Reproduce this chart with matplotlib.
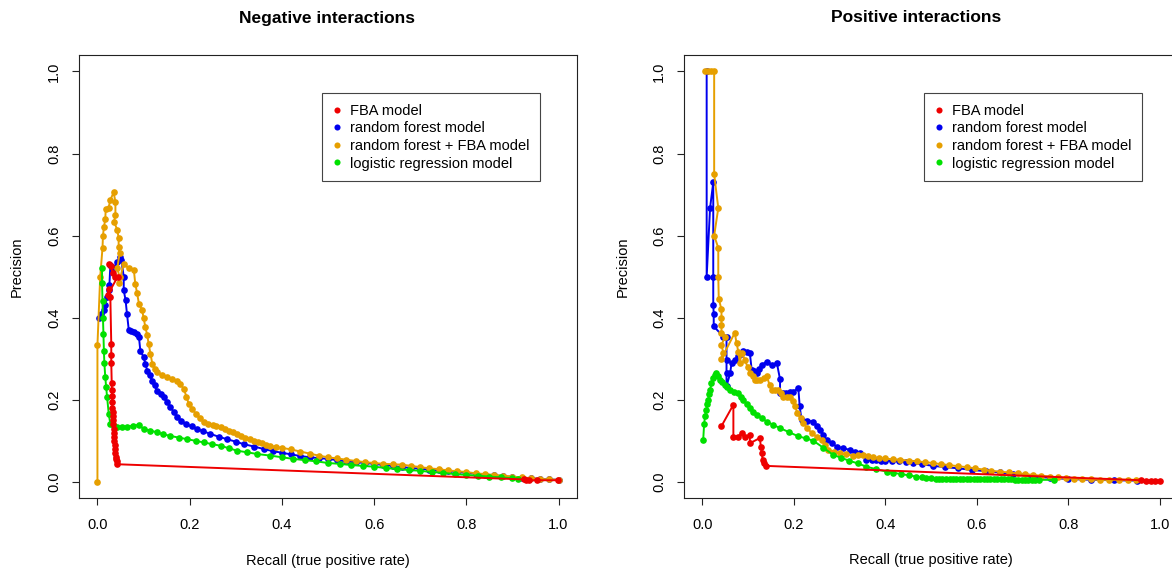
import matplotlib
matplotlib.use("Agg")
import matplotlib.pyplot as plt
from matplotlib.lines import Line2D

plt.rcParams['font.family'] = ['Liberation Sans', 'DejaVu Sans']

# ---- Negative interactions ----
neg_fba_recall = [0.026, 0.029, 0.033, 0.038, 0.044, 0.022, 0.025, 0.028, 0.030, 0.030, 0.030, 0.031,
                  0.031, 0.032, 0.032, 0.032, 0.033, 0.033, 0.034, 0.034, 0.035, 0.036, 0.036, 0.037,
                  0.038, 0.038, 0.039, 0.040, 0.041, 0.042, 0.043, 0.925, 0.929, 0.935, 0.953, 0.998]
neg_fba_prec = [0.53, 0.525, 0.51, 0.50, 0.50, 0.455, 0.47, 0.45, 0.335, 0.31, 0.29, 0.24,
                0.225, 0.21, 0.195, 0.18, 0.17, 0.16, 0.15, 0.14, 0.13, 0.12, 0.11, 0.10,
                0.09, 0.08, 0.07, 0.06, 0.055, 0.05, 0.043, 0.006, 0.004, 0.004, 0.004, 0.004]

neg_rf_recall = [0.003, 0.008, 0.014, 0.017, 0.021, 0.024, 0.026, 0.028, 0.035, 0.042, 0.050, 0.052,
                 0.057, 0.057, 0.061, 0.064, 0.068, 0.073, 0.079, 0.085, 0.090, 0.093, 0.100, 0.104,
                 0.108, 0.113, 0.119, 0.124, 0.129, 0.137, 0.144, 0.151, 0.158, 0.166, 0.173, 0.182,
                 0.191, 0.204, 0.216, 0.230, 0.245, 0.263, 0.281, 0.300, 0.317, 0.340, 0.361, 0.380,
                 0.400, 0.420, 0.440, 0.460, 0.480, 0.500, 0.520, 0.540, 0.560, 0.580, 0.600, 0.620,
                 0.640, 0.660, 0.680, 0.700, 0.720, 0.740, 0.760, 0.780, 0.800, 0.820, 0.840, 0.860,
                 0.880, 0.900, 0.920, 0.940, 0.960, 0.980, 1.000]
neg_rf_prec = [0.40, 0.41, 0.418, 0.43, 0.45, 0.467, 0.48, 0.528, 0.52, 0.535, 0.548, 0.54,
               0.50, 0.467, 0.443, 0.41, 0.37, 0.368, 0.365, 0.36, 0.353, 0.32, 0.304, 0.288,
               0.271, 0.26, 0.247, 0.235, 0.222, 0.214, 0.206, 0.194, 0.182, 0.17, 0.157, 0.149,
               0.141, 0.135, 0.129, 0.123, 0.117, 0.11, 0.104, 0.098, 0.092, 0.086, 0.08, 0.075,
               0.071, 0.067, 0.063, 0.06, 0.058, 0.056, 0.053, 0.05, 0.048, 0.046, 0.044, 0.041,
               0.039, 0.036, 0.034, 0.032, 0.03, 0.028, 0.026, 0.024, 0.022, 0.02, 0.018, 0.016,
               0.014, 0.012, 0.01, 0.009, 0.007, 0.006, 0.005]

neg_rffba_recall = [0.0, 0.0, 0.006, 0.011, 0.012, 0.014, 0.017, 0.018, 0.024, 0.028, 0.035, 0.039,
                    0.039, 0.036, 0.043, 0.046, 0.046, 0.048, 0.043, 0.048, 0.047, 0.057, 0.068, 0.079,
                    0.082, 0.086, 0.090, 0.097, 0.100, 0.104, 0.108, 0.111, 0.115, 0.119, 0.124, 0.129,
                    0.140, 0.151, 0.162, 0.173, 0.180, 0.187, 0.193, 0.198, 0.206, 0.213, 0.222, 0.231,
                    0.240, 0.250, 0.258, 0.267, 0.276, 0.285, 0.294, 0.303, 0.312, 0.320, 0.330, 0.339,
                    0.348, 0.357, 0.366, 0.375, 0.388, 0.400, 0.420, 0.440, 0.460, 0.480, 0.500, 0.520,
                    0.540, 0.560, 0.580, 0.600, 0.620, 0.640, 0.660, 0.680, 0.700, 0.720, 0.740, 0.760,
                    0.780, 0.800, 0.820, 0.840, 0.860, 0.880, 0.900, 0.920, 0.940, 0.960, 0.980, 1.000]
neg_rffba_prec = [0.0, 0.333, 0.50, 0.57, 0.60, 0.62, 0.64, 0.665, 0.667, 0.687, 0.705, 0.683,
                  0.65, 0.634, 0.614, 0.594, 0.573, 0.557, 0.52, 0.50, 0.485, 0.532, 0.52, 0.516,
                  0.483, 0.46, 0.434, 0.418, 0.40, 0.377, 0.357, 0.337, 0.312, 0.288, 0.275, 0.267,
                  0.26, 0.255, 0.25, 0.247, 0.238, 0.227, 0.208, 0.19, 0.178, 0.166, 0.155, 0.145,
                  0.141, 0.138, 0.135, 0.133, 0.129, 0.125, 0.121, 0.117, 0.112, 0.108, 0.104, 0.10,
                  0.097, 0.094, 0.091, 0.088, 0.085, 0.083, 0.079, 0.074, 0.069, 0.064, 0.060, 0.057,
                  0.054, 0.051, 0.048, 0.046, 0.044, 0.043, 0.042, 0.039, 0.036, 0.033, 0.031, 0.028,
                  0.026, 0.024, 0.021, 0.019, 0.017, 0.015, 0.013, 0.011, 0.009, 0.007, 0.006, 0.005]

neg_lr_recall = [0.010, 0.010, 0.011, 0.012, 0.013, 0.014, 0.015, 0.017, 0.019, 0.021, 0.0245, 0.028,
                 0.035, 0.043, 0.053, 0.064, 0.077, 0.090, 0.100, 0.114, 0.129, 0.143, 0.158, 0.176,
                 0.195, 0.213, 0.231, 0.249, 0.267, 0.285, 0.303, 0.325, 0.346, 0.375, 0.400, 0.425,
                 0.450, 0.475, 0.500, 0.525, 0.550, 0.575, 0.600, 0.625, 0.650, 0.675, 0.700, 0.725,
                 0.750, 0.775, 0.800, 0.825, 0.850, 0.875, 0.900, 0.913]
neg_lr_prec = [0.52, 0.485, 0.44, 0.40, 0.36, 0.32, 0.29, 0.255, 0.23, 0.206, 0.166, 0.141,
               0.135, 0.133, 0.134, 0.134, 0.137, 0.139, 0.129, 0.125, 0.121, 0.116, 0.112, 0.108,
               0.104, 0.10, 0.096, 0.092, 0.088, 0.082, 0.076, 0.072, 0.068, 0.064, 0.060, 0.056,
               0.053, 0.050, 0.046, 0.044, 0.041, 0.039, 0.037, 0.034, 0.031, 0.029, 0.027, 0.024,
               0.022, 0.019, 0.017, 0.015, 0.013, 0.011, 0.009, 0.007]

# ---- Positive interactions ----
pos_fba_recall = [0.042, 0.068, 0.068, 0.079, 0.086, 0.093, 0.104, 0.104, 0.126, 0.128, 0.130, 0.132,
                  0.135, 0.139, 0.960, 0.970, 0.980, 0.990, 1.000]
pos_fba_prec = [0.136, 0.188, 0.11, 0.11, 0.119, 0.11, 0.115, 0.094, 0.107, 0.086, 0.07, 0.054,
                0.045, 0.039, 0.004, 0.003, 0.003, 0.003, 0.003]

pos_rf_recall = [0.0096, 0.0096, 0.017, 0.024, 0.024, 0.024, 0.025, 0.025, 0.046, 0.053, 0.053, 0.053,
                 0.053, 0.061, 0.064, 0.072, 0.079, 0.085, 0.090, 0.097, 0.104, 0.108, 0.114, 0.119,
                 0.125, 0.130, 0.141, 0.152, 0.163, 0.170, 0.170, 0.177, 0.184, 0.192, 0.199, 0.210,
                 0.213, 0.217, 0.230, 0.243, 0.250, 0.257, 0.265, 0.272, 0.283, 0.294, 0.308, 0.323,
                 0.334, 0.345, 0.359, 0.370, 0.380, 0.390, 0.400, 0.415, 0.430, 0.445, 0.460, 0.480,
                 0.505, 0.530, 0.560, 0.590, 0.620, 0.650, 0.680, 0.720, 0.760, 0.800, 0.850, 0.900,
                 0.950]
pos_rf_prec = [1.0, 0.50, 0.667, 0.73, 0.50, 0.432, 0.41, 0.379, 0.354, 0.354, 0.298, 0.265,
               0.233, 0.265, 0.29, 0.298, 0.306, 0.312, 0.318, 0.316, 0.314, 0.273, 0.27, 0.265,
               0.275, 0.285, 0.293, 0.285, 0.29, 0.25, 0.216, 0.216, 0.216, 0.218, 0.22, 0.228,
               0.184, 0.151, 0.149, 0.147, 0.137, 0.127, 0.114, 0.102, 0.094, 0.086, 0.082, 0.078,
               0.074, 0.07, 0.054, 0.053, 0.053, 0.052, 0.052, 0.051, 0.05, 0.048, 0.046, 0.043,
               0.039, 0.036, 0.033, 0.029, 0.026, 0.023, 0.019, 0.013, 0.010, 0.007, 0.005, 0.004,
               0.003]

pos_rffba_recall = [0.006, 0.013, 0.020, 0.026, 0.026, 0.035, 0.026, 0.035, 0.035, 0.036, 0.042, 0.042,
                    0.042, 0.042, 0.050, 0.042, 0.046, 0.042, 0.071, 0.075, 0.079, 0.082, 0.086, 0.093,
                    0.099, 0.104, 0.110, 0.115, 0.120, 0.126, 0.134, 0.141, 0.147, 0.152, 0.159, 0.166,
                    0.172, 0.177, 0.185, 0.192, 0.198, 0.203, 0.208, 0.215, 0.221, 0.230, 0.239, 0.250,
                    0.261, 0.268, 0.275, 0.288, 0.301, 0.315, 0.330, 0.341, 0.352, 0.363, 0.374, 0.387,
                    0.400, 0.416, 0.432, 0.451, 0.470, 0.487, 0.505, 0.522, 0.540, 0.560, 0.578, 0.596,
                    0.615, 0.632, 0.650, 0.670, 0.690, 0.705, 0.723, 0.740, 0.760, 0.778, 0.796, 0.813,
                    0.830, 0.850, 0.869, 0.890, 0.910, 0.930, 0.949]
pos_rffba_prec = [1.0, 1.0, 1.0, 1.0, 0.749, 0.667, 0.60, 0.57, 0.50, 0.446, 0.42, 0.40,
                  0.383, 0.363, 0.354, 0.334, 0.314, 0.30, 0.363, 0.338, 0.316, 0.29, 0.314, 0.298,
                  0.28, 0.265, 0.257, 0.249, 0.249, 0.249, 0.253, 0.257, 0.237, 0.224, 0.224, 0.224,
                  0.216, 0.208, 0.208, 0.208, 0.196, 0.184, 0.167, 0.155, 0.143, 0.131, 0.119, 0.11,
                  0.102, 0.09, 0.078, 0.074, 0.07, 0.067, 0.064, 0.065, 0.066, 0.063, 0.06, 0.058,
                  0.057, 0.055, 0.054, 0.052, 0.05, 0.048, 0.046, 0.043, 0.041, 0.038, 0.036, 0.033,
                  0.030, 0.027, 0.025, 0.023, 0.021, 0.019, 0.017, 0.015, 0.013, 0.011, 0.009, 0.008,
                  0.007, 0.006, 0.005, 0.005, 0.005, 0.005, 0.005]

pos_lr_recall = [0.002, 0.004, 0.006, 0.009, 0.011, 0.013, 0.015, 0.017, 0.020, 0.024, 0.027, 0.031,
                 0.034, 0.038, 0.043, 0.049, 0.054, 0.060, 0.070, 0.079, 0.085, 0.090, 0.097, 0.104,
                 0.111, 0.119, 0.130, 0.141, 0.155, 0.170, 0.190, 0.210, 0.227, 0.243, 0.265, 0.286,
                 0.303, 0.320, 0.340, 0.359, 0.380, 0.403, 0.418, 0.435, 0.451, 0.468, 0.480, 0.490,
                 0.500, 0.510, 0.518, 0.525, 0.533, 0.541, 0.548, 0.555, 0.563, 0.570, 0.578, 0.585,
                 0.593, 0.600, 0.608, 0.615, 0.623, 0.630, 0.638, 0.645, 0.653, 0.660, 0.668, 0.675,
                 0.683, 0.690, 0.698, 0.705, 0.713, 0.720, 0.728, 0.737, 0.770]
pos_lr_prec = [0.102, 0.14, 0.16, 0.176, 0.19, 0.20, 0.213, 0.224, 0.24, 0.253, 0.26, 0.265,
               0.257, 0.249, 0.243, 0.237, 0.23, 0.224, 0.22, 0.216, 0.208, 0.20, 0.19, 0.18,
               0.171, 0.163, 0.155, 0.147, 0.139, 0.131, 0.121, 0.111, 0.106, 0.10, 0.083, 0.066,
               0.059, 0.052, 0.045, 0.037, 0.031, 0.025, 0.022, 0.019, 0.016, 0.013, 0.011, 0.010,
               0.009, 0.008, 0.008, 0.007, 0.007, 0.007, 0.006, 0.006, 0.006, 0.006, 0.006, 0.006,
               0.006, 0.006, 0.006, 0.006, 0.006, 0.006, 0.006, 0.006, 0.006, 0.006, 0.006, 0.006,
               0.005, 0.005, 0.005, 0.005, 0.005, 0.005, 0.005, 0.005, 0.005]

model_labels = ['FBA model', 'random forest model', 'random forest + FBA model',
                'logistic regression model']
model_colors = ['#EE0000', '#0000EE', '#E69F00', '#00E000']
tick_values = [0.0, 0.2, 0.4, 0.6, 0.8, 1.0]
tick_labels = ['0.0', '0.2', '0.4', '0.6', '0.8', '1.0']

fig = plt.figure(figsize=(11.72, 5.71), dpi=100)
ax1 = fig.add_axes([0.0674, 0.1273, 0.4249, 0.7764])
ax2 = fig.add_axes([0.5836, 0.1273, 0.4215, 0.7764])

panels = [
    (ax1, [neg_fba_recall, neg_rf_recall, neg_rffba_recall, neg_lr_recall],
     [neg_fba_prec, neg_rf_prec, neg_rffba_prec, neg_lr_prec], 0.9257),
    (ax2, [pos_fba_recall, pos_rf_recall, pos_rffba_recall, pos_lr_recall],
     [pos_fba_prec, pos_rf_prec, pos_rffba_prec, pos_lr_prec], 0.9277),
]

draw_order = [1, 2, 3, 0]  # blue, orange, green, red on top
for ax, recalls, precs, leg_x in panels:
    for i in draw_order:
        ax.plot(recalls[i], precs[i], color=model_colors[i], marker='o', markersize=4.8,
                markeredgewidth=0, linewidth=1.4, zorder=2 + draw_order.index(i))
    ax.set_xlim(-0.04, 1.04)
    ax.set_ylim(-0.04, 1.04)
    ax.set_xticks(tick_values)
    ax.set_xticklabels(tick_labels)
    ax.set_yticks(tick_values)
    ax.set_yticklabels(tick_labels)
    ax.tick_params(direction='out', length=5, width=0.8, labelsize=10.5, pad=8, color='#222222')
    ax.tick_params(axis='x', pad=9)
    ax.tick_params(axis='y', labelrotation=90)
    for lbl in ax.get_yticklabels():
        lbl.set_va('center')
    for sp in ax.spines.values():
        sp.set_linewidth(0.8)
        sp.set_color('#222222')
    handles = [Line2D([], [], color=c, marker='o', linestyle='none', markersize=4.4,
                      markeredgewidth=0) for c in model_colors]
    leg = ax.legend(handles, model_labels, loc='upper right', bbox_to_anchor=(leg_x, 0.915),
                    borderaxespad=0, fontsize=10.5, frameon=True, fancybox=False,
                    edgecolor='#444444', framealpha=1, borderpad=0.75, labelspacing=0.25,
                    handlelength=0.6, handletextpad=0.55)
    leg.get_frame().set_linewidth(0.8)

fig.text(327 / 1172, 1 - 18 / 571, 'Negative interactions', ha='center', va='center',
         fontsize=12.5, fontweight='bold')
fig.text(916 / 1172, 1 - 18 / 571, 'Positive interactions', ha='center', va='center',
         fontsize=12.5, fontweight='bold')
fig.text(328 / 1172, 1 - 561 / 571, 'Recall (true positive rate)', ha='center', va='center',
         fontsize=10.5)
fig.text(931 / 1172, 1 - 560 / 571, 'Recall (true positive rate)', ha='center', va='center',
         fontsize=10.5)
fig.text(17 / 1172, 1 - 267 / 571, 'Precision', ha='center', va='center', rotation=90,
         fontsize=10.5)
fig.text(623 / 1172, 1 - 267 / 571, 'Precision', ha='center', va='center', rotation=90,
         fontsize=10.5)

fig.savefig('out.png', dpi=100)
